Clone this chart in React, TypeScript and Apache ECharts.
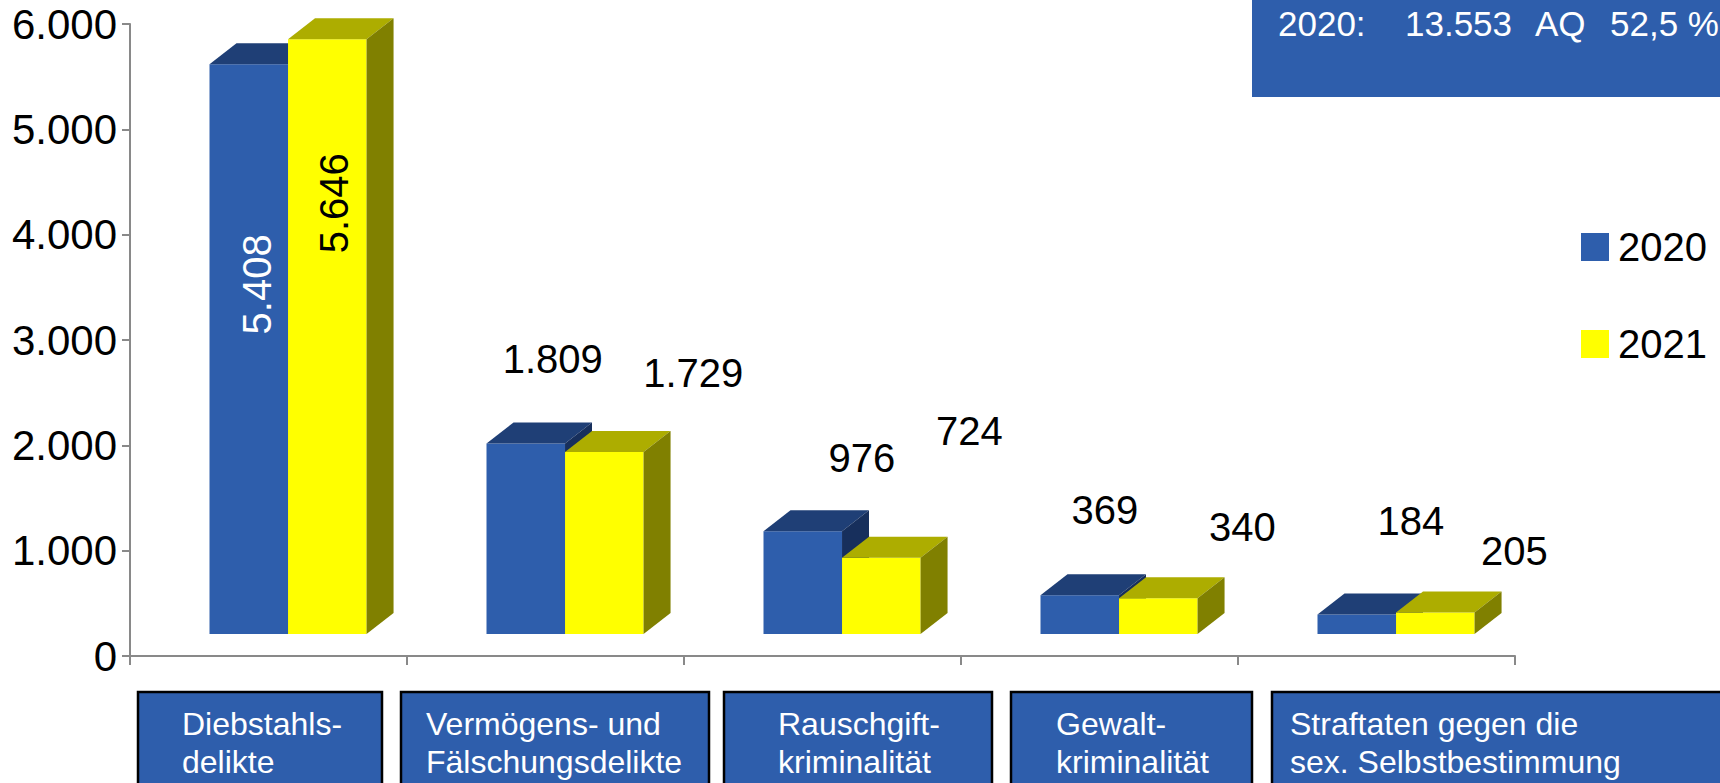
import React, { useEffect, useRef } from 'react';
import * as echarts from 'echarts';

const categories = [
  'Diebstahls-\ndelikte',
  'Vermögens- und\nFälschungsdelikte',
  'Rauschgift-\nkriminalität',
  'Gewalt-\nkriminalität',
  'Straftaten gegen die\nsex. Selbstbestimmung',
];
const seriesNames = ['2020', '2021'];
const values2020 = [5408, 1809, 976, 369, 184];
const values2021 = [5646, 1729, 724, 340, 205];
const yMin = 0;
const yMax = 6000;
const yInterval = 1000;
const infoTexts = ['2020:', '13.553', 'AQ', '52,5 %'];

// layout-only arrays (positions / styles), kept apart from the data
const labelOffsets2020 = [[8, 220], [27, -84], [59, -73], [25, -85], [54, -94]];
const labelOffsets2021 = [[7, 164], [89, -79], [88, -127], [84, -71], [79, -61]];
const infoX = [1278, 1405, 1535, 1610];
const boxX = [[138, 382], [401, 709], [724, 992], [1011, 1252], [1272, 1730]];
const boxTextX = [182, 426, 778, 1056, 1290];

const FONT = 'Liberation Sans, Arial, sans-serif';
const COLORS = [
  { front: '#2E5EAC', top: '#1F3F76', side: '#172F5C', label: '#FFFFFF' },
  { front: '#FFFF00', top: '#ADAD00', side: '#808000', label: '#000000' },
];
const DEPTH_X = 27;
const DEPTH_Y = 21;
const LIFT = 22;

function fmt(v: number): string {
  return String(v).replace(/\B(?=(\d{3})+(?!\d))/g, '.');
}

function makeRenderItem(si: number, values: number[], offsets: number[][]) {
  return (params: any, api: any) => {
    const idx = api.value(0);
    const val = api.value(1);
    const band = api.size([1, 0])[0];
    const center = api.coord([idx, 0])[0];
    const y0 = api.coord([idx, 0])[1] - LIFT;
    const yt = api.coord([idx, val])[1] - LIFT;
    const f = si === 0 ? [-0.213, 0.0705] : [0.0705, 0.354];
    const x0 = center + f[0] * band;
    const x1 = center + f[1] * band;
    const c = COLORS[si];
    const off = offsets[idx];
    const fc = (x0 + x1) / 2;
    const rotated = idx === 0;
    return {
      type: 'group',
      children: [
        {
          type: 'rect',
          shape: { x: x0, y: yt, width: x1 - x0, height: y0 - yt },
          style: { fill: c.front },
        },
        {
          type: 'polygon',
          shape: { points: [[x0, yt], [x0 + DEPTH_X, yt - DEPTH_Y], [x1 + DEPTH_X, yt - DEPTH_Y], [x1, yt]] },
          style: { fill: c.top },
        },
        {
          type: 'polygon',
          shape: { points: [[x1, yt], [x1 + DEPTH_X, yt - DEPTH_Y], [x1 + DEPTH_X, y0 - DEPTH_Y], [x1, y0]] },
          style: { fill: c.side },
        },
        {
          type: 'text',
          x: fc + off[0],
          y: yt + off[1],
          rotation: rotated ? Math.PI / 2 : 0,
          style: {
            text: fmt(values[idx]),
            fill: rotated ? c.label : '#000000',
            fontSize: 40,
            fontFamily: FONT,
            align: 'center',
            verticalAlign: 'middle',
          },
        },
      ],
    };
  };
}

export default function App() {
  const ref = useRef<HTMLDivElement>(null);
  useEffect(() => {
    if (!ref.current) return;
    const chart = echarts.init(ref.current, undefined, { renderer: 'svg' });
    const graphics: any[] = [];
    graphics.push({
      type: 'rect',
      shape: { x: 1252, y: 0, width: 480, height: 97 },
      style: { fill: '#2E5EAC' },
    });
    infoTexts.forEach((t, i) => {
      graphics.push({
        type: 'text',
        x: infoX[i],
        y: 23,
        style: { text: t, fill: '#FFFFFF', fontSize: 35, fontFamily: FONT, verticalAlign: 'middle' },
      });
    });
    categories.forEach((cat, i) => {
      const [a, b] = boxX[i];
      graphics.push({
        type: 'rect',
        shape: { x: a, y: 692, width: b - a, height: 110 },
        style: { fill: '#2E5EAC', stroke: '#000000', lineWidth: 2.5 },
      });
      const lines = cat.split('\n');
      lines.forEach((ln, j) => {
        graphics.push({
          type: 'text',
          x: boxTextX[i],
          y: 724 + j * 38,
          style: { text: ln, fill: '#FFFFFF', fontSize: 32, fontFamily: FONT, verticalAlign: 'middle' },
        });
      });
    });

    chart.setOption({
      animation: false,
      backgroundColor: '#FFFFFF',
      grid: { left: 130, right: 205, top: 24, bottom: 127, containLabel: false },
      legend: {
        orient: 'vertical',
        left: 1576,
        top: 222,
        itemWidth: 28,
        itemHeight: 28,
        itemGap: 57,
        icon: 'rect',
        data: seriesNames,
        textStyle: { fontSize: 40, color: '#000000', fontFamily: FONT, padding: [0, 0, 0, 4] },
      },
      xAxis: {
        type: 'category',
        data: categories,
        boundaryGap: true,
        axisLine: { lineStyle: { color: '#898989', width: 2 } },
        axisTick: { show: true, length: 9, interval: 0, lineStyle: { color: '#898989', width: 2 } },
        axisLabel: { show: false },
        splitLine: { show: false },
      },
      yAxis: {
        type: 'value',
        min: yMin,
        max: yMax,
        interval: yInterval,
        axisLine: { show: true, lineStyle: { color: '#898989', width: 2 } },
        axisTick: { show: true, length: 8, lineStyle: { color: '#898989', width: 2 } },
        axisLabel: {
          formatter: (v: number) => fmt(v),
          fontSize: 42,
          color: '#000000',
          fontFamily: FONT,
          margin: 13,
        },
        splitLine: { show: false },
      },
      series: [
        {
          name: seriesNames[0],
          type: 'custom',
          clip: false,
          itemStyle: { color: COLORS[0].front },
          renderItem: makeRenderItem(0, values2020, labelOffsets2020),
          data: values2020.map((v, i) => [i, v]),
          encode: { x: 0, y: 1 },
          z: 2,
        },
        {
          name: seriesNames[1],
          type: 'custom',
          clip: false,
          itemStyle: { color: COLORS[1].front },
          renderItem: makeRenderItem(1, values2021, labelOffsets2021),
          data: values2021.map((v, i) => [i, v]),
          encode: { x: 0, y: 1 },
          z: 3,
        },
      ],
      graphic: graphics,
    });
    return () => chart.dispose();
  }, []);
  return (
    <div
      ref={ref}
      style={{ position: 'fixed', left: 0, top: 0, width: 1720, height: 783, background: '#fff' }}
    />
  );
}
